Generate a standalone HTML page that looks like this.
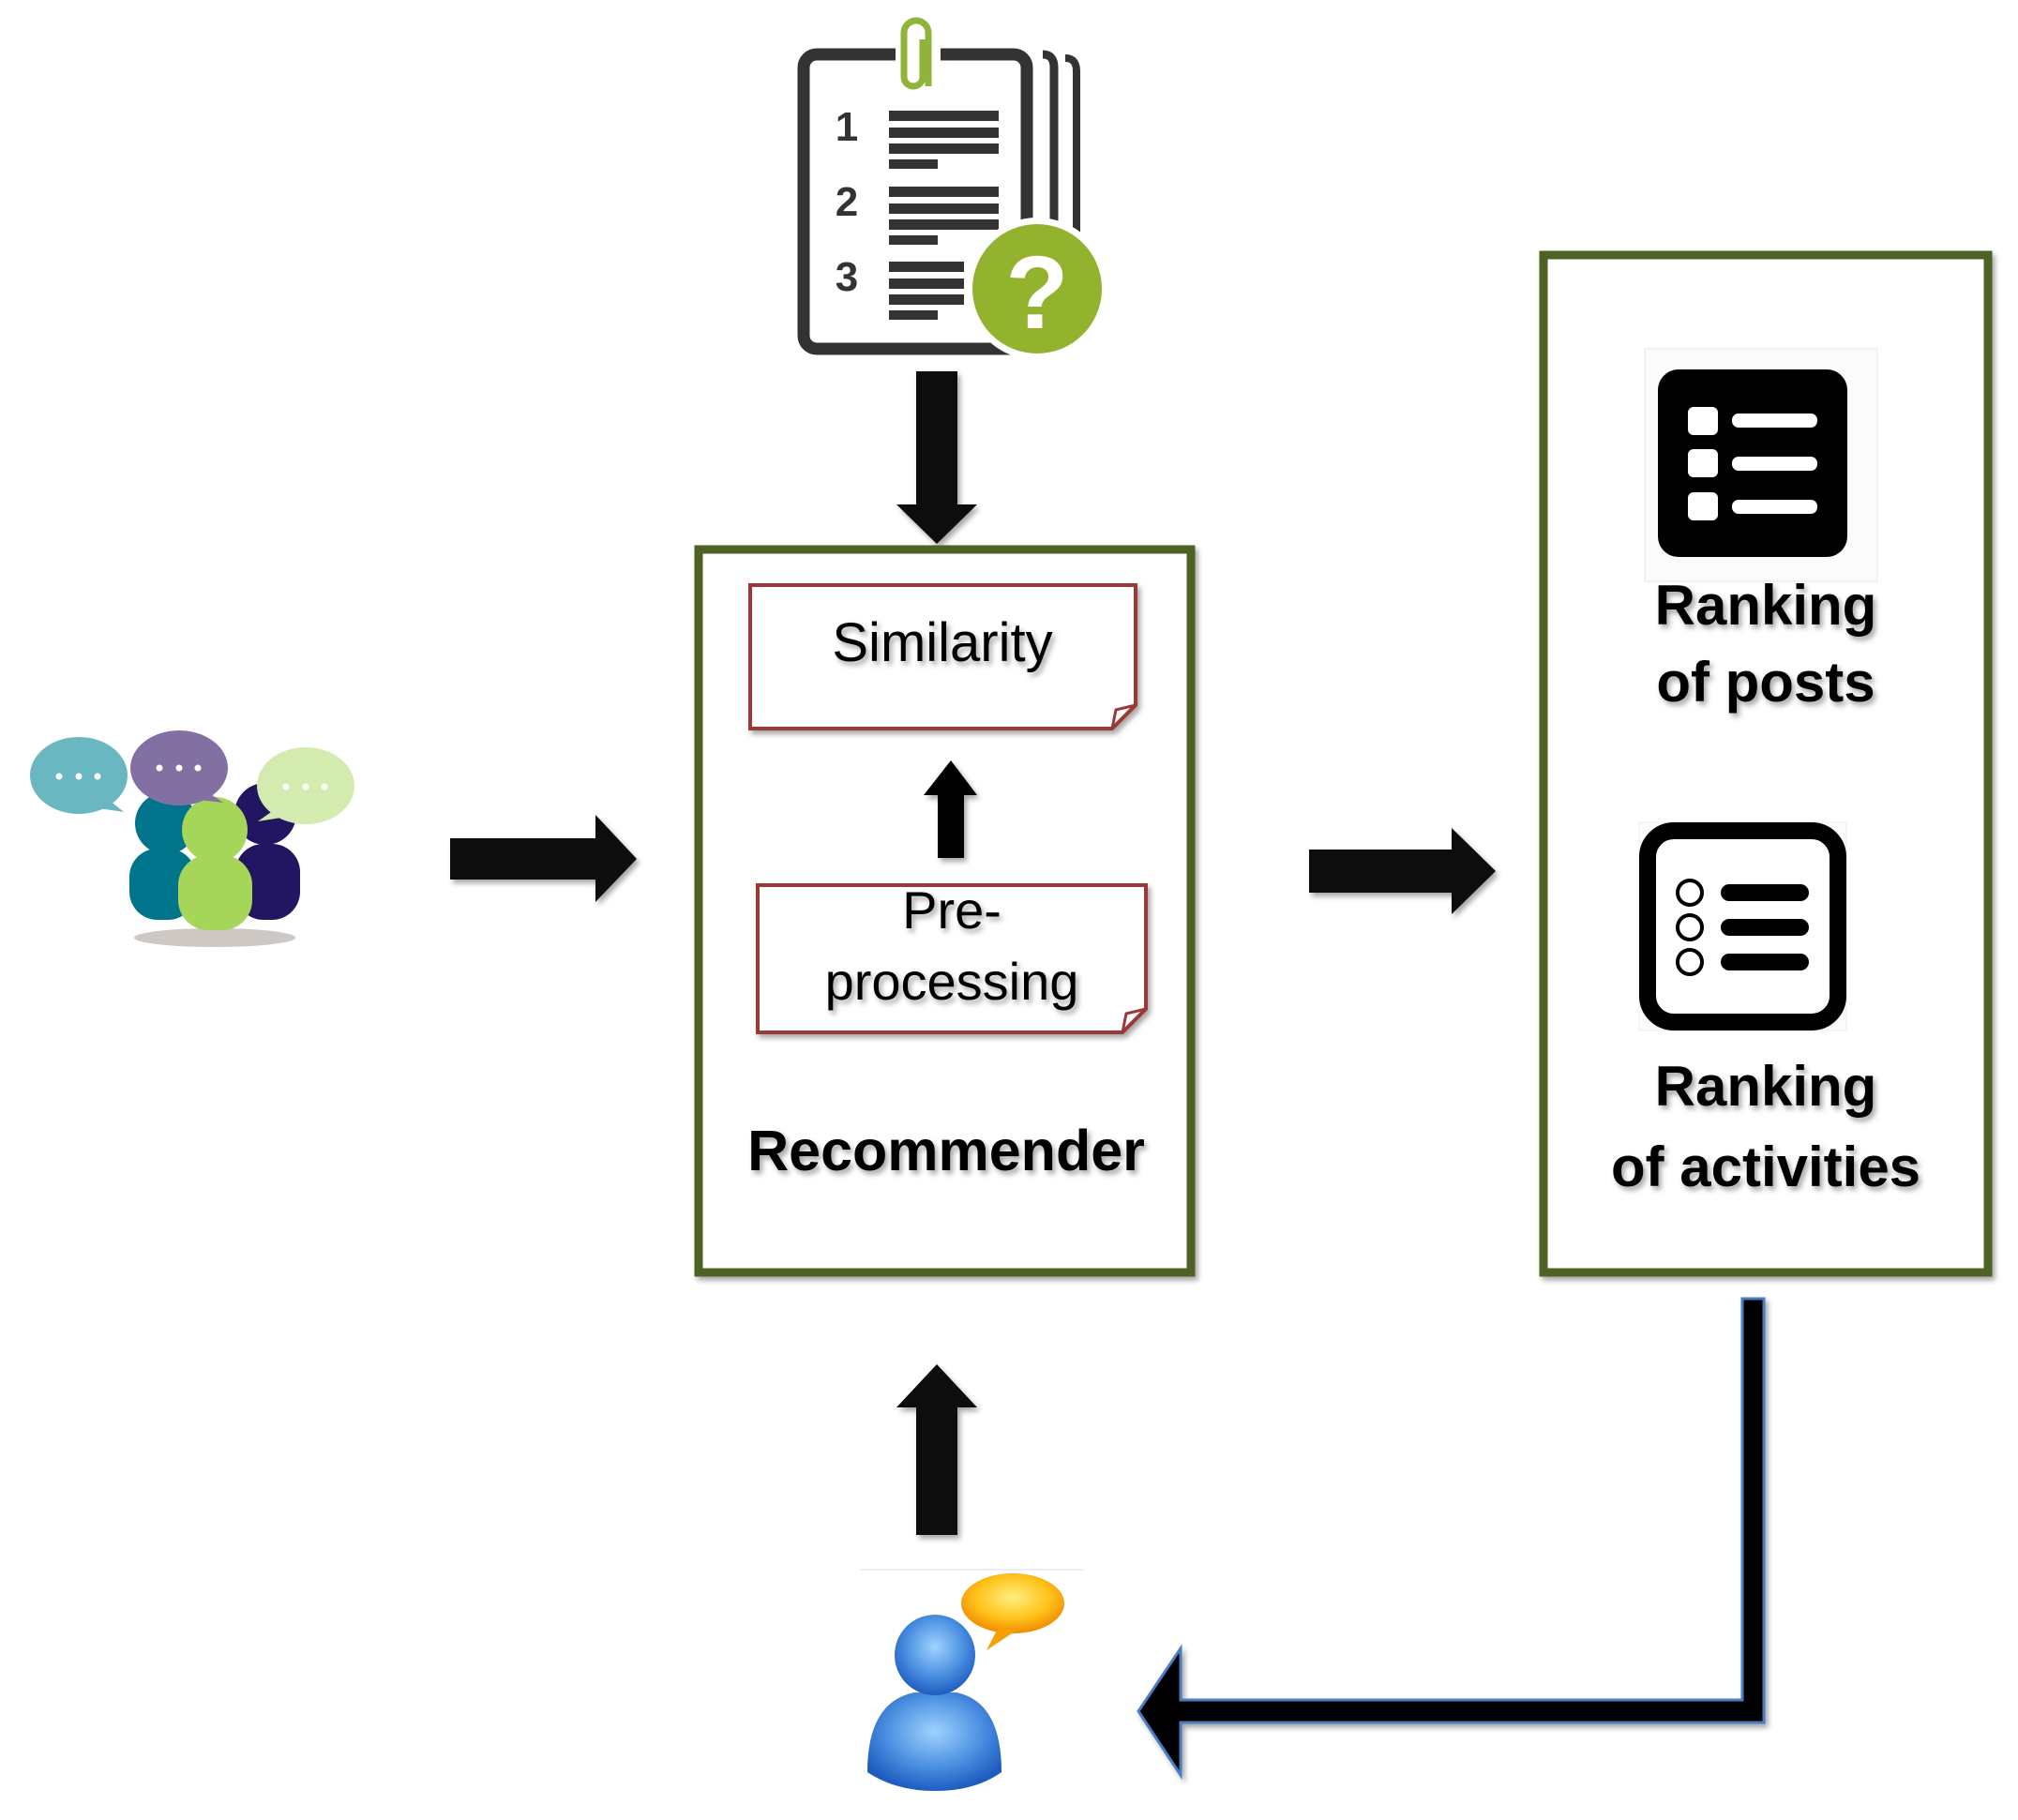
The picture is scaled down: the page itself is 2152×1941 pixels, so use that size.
<!DOCTYPE html>
<html><head><meta charset="utf-8"><style>
html,body{margin:0;padding:0;background:#fff;}
svg{display:block;}
text{font-family:"Liberation Sans",sans-serif;}
</style></head><body>
<svg width="2152" height="1941" viewBox="0 0 2152 1941" xmlns="http://www.w3.org/2000/svg">
<defs>
<filter id="sh" x="-10%" y="-10%" width="130%" height="130%"><feDropShadow dx="3" dy="4" stdDeviation="3" flood-color="#000" flood-opacity="0.35"/></filter>
<radialGradient id="blue" cx="50%" cy="40%" r="60%"><stop offset="0" stop-color="#9fd3ff"/><stop offset="0.6" stop-color="#4a8fe0"/><stop offset="1" stop-color="#1f5cc0"/></radialGradient>
<radialGradient id="orng" cx="50%" cy="40%" r="60%"><stop offset="0" stop-color="#ffef80"/><stop offset="0.6" stop-color="#ffc21a"/><stop offset="1" stop-color="#f08a00"/></radialGradient>
</defs>

<!-- clipboard icon -->
<g>
<rect x="857" y="58" width="238" height="314" rx="14" fill="none" stroke="#333" stroke-width="13"/>
<path d="M1112 58 q12 0 12 14 v250" fill="none" stroke="#333" stroke-width="9"/>
<path d="M1136 62 q12 0 12 14 v240" fill="none" stroke="#333" stroke-width="8"/>
<rect x="955" y="30" width="48" height="50" fill="#fff"/>
<path d="M990 92 V35 a13 13 0 0 0 -26 0 V82 a10 10 0 0 0 20 0 V42" fill="none" stroke="#8fb43a" stroke-width="7"/>
<text x="903" y="150" font-size="44" font-weight="bold" fill="#333" text-anchor="middle">1</text>
<text x="903" y="230" font-size="44" font-weight="bold" fill="#333" text-anchor="middle">2</text>
<text x="903" y="310" font-size="44" font-weight="bold" fill="#333" text-anchor="middle">3</text>
<g fill="#333">
<rect x="948" y="118" width="117" height="11"/><rect x="948" y="136" width="117" height="11"/><rect x="948" y="153" width="117" height="11"/><rect x="948" y="170" width="52" height="10"/>
<rect x="948" y="199" width="117" height="11"/><rect x="948" y="217" width="117" height="11"/><rect x="948" y="234" width="117" height="11"/><rect x="948" y="251" width="52" height="10"/>
<rect x="948" y="279" width="80" height="11"/><rect x="948" y="297" width="80" height="11"/><rect x="948" y="314" width="80" height="11"/><rect x="948" y="331" width="52" height="10"/>
</g>
<circle cx="1106" cy="308" r="76" fill="#fff"/>
<circle cx="1106" cy="308" r="69" fill="#93b32f"/>
<text x="1106" y="350" font-size="110" font-weight="bold" fill="#fff" text-anchor="middle">?</text>
</g>

<!-- top down arrow -->
<polygon points="977,396 1021,396 1021,538 1042,538 999,580 956,538 977,538" fill="#0d0d0d" filter="url(#sh)"/>

<!-- Recommender box -->
<rect x="745" y="586" width="525" height="771" fill="#fff" stroke="#4f6228" stroke-width="9" filter="url(#sh)"/>
<path d="M800 624 H1211 V752 L1186 777 H800 Z" fill="#fff" stroke="#9b3838" stroke-width="4" filter="url(#sh)"/>
<path d="M1186 777 L1190 757 L1211 752" fill="none" stroke="#9b3838" stroke-width="3"/>
<text x="1005" y="705" font-size="58" text-anchor="middle" fill="#000" filter="url(#sh)">Similarity</text>
<polygon points="1000,915 1028,915 1028,848 1042,848 1014,811 985,848 1000,848" fill="#000" filter="url(#sh)"/>
<path d="M808 944 H1222 V1076 L1197 1101 H808 Z" fill="#fff" stroke="#9b3838" stroke-width="4" filter="url(#sh)"/>
<path d="M1197 1101 L1201 1081 L1222 1076" fill="none" stroke="#9b3838" stroke-width="3"/>
<text x="1015" y="990" font-size="56" text-anchor="middle" fill="#000" filter="url(#sh)">Pre-</text>
<text x="1015" y="1066" font-size="56" text-anchor="middle" fill="#000" filter="url(#sh)">processing</text>
<text x="1009" y="1248" font-size="61" font-weight="bold" text-anchor="middle" fill="#000" filter="url(#sh)">Recommender</text>

<!-- left arrow -->
<polygon points="480,894 635,894 635,869 679,916 635,962 635,938 480,938" fill="#0d0d0d" filter="url(#sh)"/>
<!-- right arrow -->
<polygon points="1396,906 1548,906 1548,883 1595,929 1548,975 1548,952 1396,952" fill="#0d0d0d" filter="url(#sh)"/>

<!-- right box -->
<rect x="1646" y="272" width="474" height="1085" fill="#fff" stroke="#4f6228" stroke-width="9" filter="url(#sh)"/>
<rect x="1754" y="372" width="248" height="248" fill="#fbfbfb" stroke="#e6e6e6" stroke-width="1"/>
<rect x="1768" y="394" width="202" height="200" rx="22" fill="#000"/>
<g fill="#fff">
<rect x="1800" y="434" width="32" height="30" rx="6"/><rect x="1800" y="479" width="32" height="30" rx="6"/><rect x="1800" y="525" width="32" height="30" rx="6"/>
<rect x="1847" y="441" width="91" height="15" rx="7"/><rect x="1847" y="487" width="91" height="15" rx="7"/><rect x="1847" y="533" width="91" height="15" rx="7"/>
</g>
<text x="1883" y="666" font-size="60" font-weight="bold" text-anchor="middle" fill="#000" filter="url(#sh)">Ranking</text>
<text x="1883" y="748" font-size="60" font-weight="bold" text-anchor="middle" fill="#000" filter="url(#sh)">of posts</text>
<rect x="1748" y="877" width="221" height="222" fill="#fbfbfb" stroke="#eee" stroke-width="1"/>
<rect x="1757" y="886" width="203" height="204" rx="28" fill="#fff" stroke="#000" stroke-width="18"/>
<g fill="none" stroke="#000" stroke-width="4">
<circle cx="1802" cy="952" r="13"/><circle cx="1802" cy="989" r="13"/><circle cx="1802" cy="1026" r="13"/>
</g>
<g fill="#000">
<rect x="1835" y="943" width="94" height="18" rx="9"/><rect x="1835" y="980" width="94" height="18" rx="9"/><rect x="1835" y="1017" width="94" height="18" rx="9"/>
</g>
<text x="1883" y="1179" font-size="60" font-weight="bold" text-anchor="middle" fill="#000" filter="url(#sh)">Ranking</text>
<text x="1883" y="1265" font-size="60" font-weight="bold" text-anchor="middle" fill="#000" filter="url(#sh)">of activities</text>

<!-- bottom up arrow -->
<polygon points="977,1637 1021,1637 1021,1501 1042,1501 999,1455 956,1501 977,1501" fill="#0d0d0d" filter="url(#sh)"/>

<!-- return connector -->
<polygon points="1881,1385 1858,1385 1858,1813 1259,1813 1259,1758 1214,1825 1259,1893 1259,1837 1881,1837" fill="#000" stroke="#4a7cc0" stroke-width="3" filter="url(#sh)"/>

<!-- group icon -->
<g>
<ellipse cx="229" cy="1000" rx="86" ry="10" fill="#b8b0aa" opacity="0.7"/>
<circle cx="177" cy="878" r="33" fill="#00748a"/>
<rect x="138" y="905" width="71" height="76" rx="30" fill="#00748a"/>
<circle cx="283" cy="868" r="33" fill="#221561"/>
<rect x="251" y="900" width="69" height="81" rx="30" fill="#221561"/>
<circle cx="229" cy="885" r="35" fill="#a5d65a"/>
<rect x="190" y="912" width="79" height="80" rx="32" fill="#a5d65a"/>
<ellipse cx="84" cy="827" rx="52" ry="41" fill="#6ab7c1"/>
<polygon points="115,852 132,866 105,862" fill="#6ab7c1"/>
<ellipse cx="191" cy="819" rx="52" ry="40" fill="#8270a3"/>
<polygon points="222,845 238,856 212,853" fill="#8270a3"/>
<ellipse cx="326" cy="838" rx="52" ry="41" fill="#d3ebae"/>
<polygon points="292,864 275,876 300,872" fill="#d3ebae"/>
<g fill="#fff"><circle cx="63" cy="828" r="3.5"/><circle cx="84" cy="828" r="3.5"/><circle cx="104" cy="828" r="3.5"/>
<circle cx="170" cy="819" r="3.5"/><circle cx="191" cy="819" r="3.5"/><circle cx="211" cy="819" r="3.5"/>
<circle cx="305" cy="839" r="3.5"/><circle cx="326" cy="839" r="3.5"/><circle cx="346" cy="839" r="3.5"/></g>
</g>

<!-- user icon -->
<g>
<line x1="917" y1="1674" x2="1156" y2="1674" stroke="#ddd" stroke-width="1"/>
<path d="M925 1890 Q925 1815 975 1805 H1020 Q1068 1815 1068 1890 Q1040 1910 997 1910 Q955 1910 925 1890 Z" fill="url(#blue)"/>
<circle cx="997" cy="1765" r="43" fill="url(#blue)"/>
<ellipse cx="1080" cy="1710" rx="55" ry="32" fill="url(#orng)"/>
<polygon points="1065,1735 1052,1760 1085,1738" fill="#f5a000"/>
</g>
</svg>
</body></html>
